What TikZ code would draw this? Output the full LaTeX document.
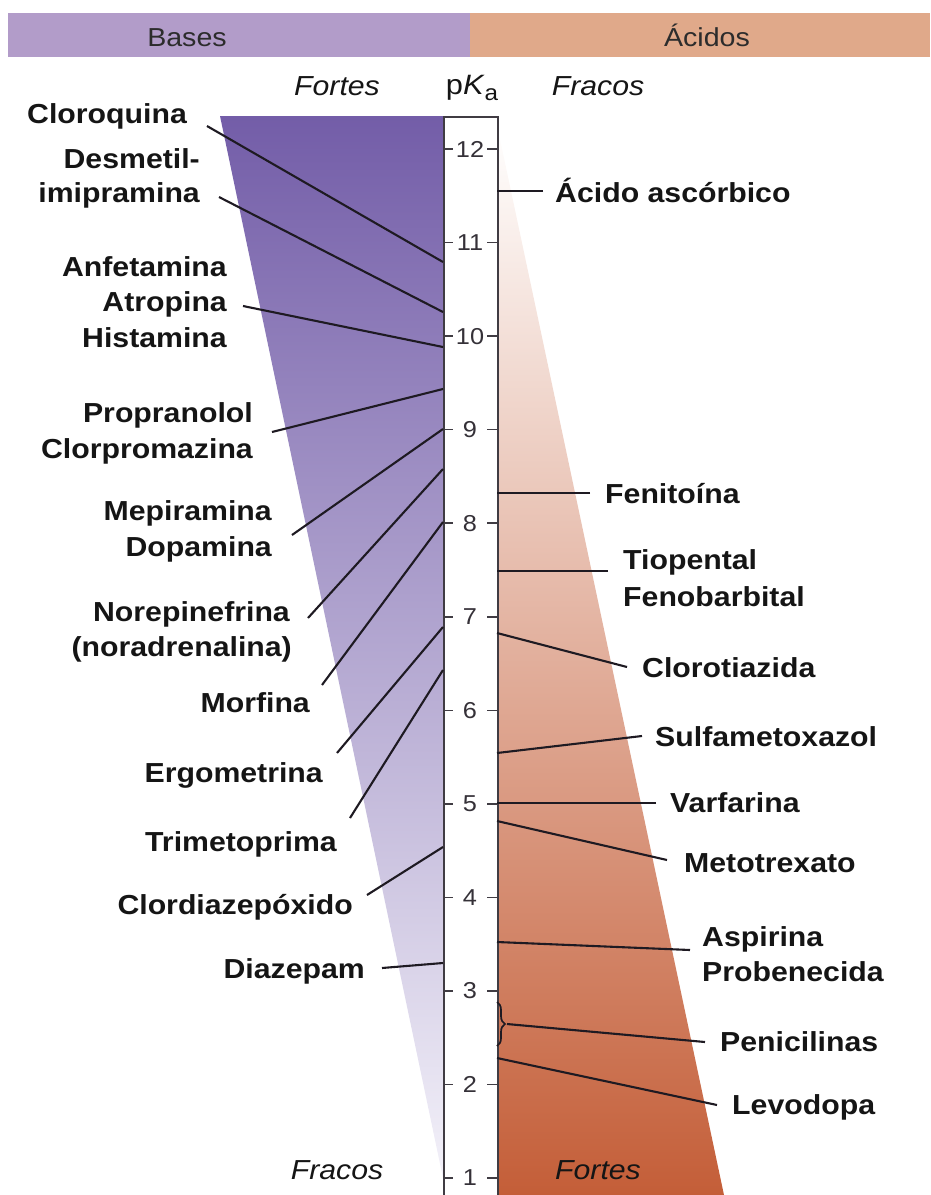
\documentclass[tikz,border=0pt]{standalone}
\usepackage{fontspec}
\setmainfont{Liberation Sans}[FakeStretch=1.1]
\usetikzlibrary{decorations.pathreplacing,calc}
\definecolor{hdrpurple}{HTML}{B29CC9}
\definecolor{hdrorange}{HTML}{E0A98A}
\definecolor{purtop}{HTML}{735DA8}
\definecolor{purbot}{HTML}{F3F1F9}
\definecolor{orbot}{HTML}{C45E38}
\definecolor{ink}{HTML}{1E1A22}
\definecolor{txt}{HTML}{151515}
\tikzset{
  lbl/.style={font=\bfseries\fontsize{27.5}{33}\selectfont, text=txt, inner sep=0pt, text height=19.7pt, text depth=0pt},
  lleft/.style={lbl, anchor=east},
  lright/.style={lbl, anchor=west},
  hdr/.style={font=\fontsize{26}{30}\selectfont, text=txt!90, inner sep=0pt, text height=18.6pt, text depth=0pt},
  itl/.style={font=\itshape\fontsize{27.5}{33}\selectfont, text=txt, inner sep=0pt},
  num/.style={font=\fontsize{23}{26}\selectfont, text=ink!90, inner sep=0pt},
  conn/.style={draw=ink, line width=2.1pt},
  tick/.style={draw=ink!85, line width=1.6pt}
}
\begin{document}
\begin{tikzpicture}[x=1pt,y=-1pt]
\useasboundingbox (0,0) rectangle (930,1195);
% header
\fill[hdrpurple] (8,13) rectangle (470,57);
\fill[hdrorange] (470,13) rectangle (930,57);
\node[hdr] (bases) at (187,37) {Bases};
\node[hdr] (acidos) at (707,37) {Ácidos};
\node[itl] (fortesT) at (337,86) {Fortes};
\node[itl] (fracosT) at (598,86) {Fracos};
\node[font=\fontsize{28}{30}\selectfont, text=txt, inner sep=0pt] (pka) at (472,88) {p\textit{K}\raisebox{-6pt}{\fontsize{22}{22}\selectfont a}};
% wedges
\shade[top color=purtop, bottom color=purbot] (220,116) -- (443,116) -- (443,1178) -- cycle;
\shade[top color=white, bottom color=orbot] (497,125) -- (724,1195) -- (497,1195) -- cycle;
% scale box
\fill[white] (443,116) rectangle (497,1200);
\node[draw=ink!85, line width=1.9pt, minimum width=54pt, minimum height=1100pt, anchor=north west, inner sep=0pt] (box) at (443,116) {};
\foreach \p in {1,...,12}{
  \pgfmathsetmacro{\yy}{149+(12-\p)*93.55}
  \draw[tick] (443,\yy) -- (453,\yy);
  \draw[tick] (487,\yy) -- (497,\yy);
  \node[num] at (470,\yy) {\p};
}
\node[itl] (fracosB) at (337,1170) {Fracos};
\node[itl] (fortesB) at (598,1170) {Fortes};
% left labels
\node[lleft] (cloro) at (187,114) {Cloroquina};
\node[lleft] (desm1) at (200,159) {Desmetil-};
\node[lleft] (desm2) at (200,193) {imipramina};
\node[lleft] (anfe) at (227,267) {Anfetamina};
\node[lleft] (atro) at (227,302) {Atropina};
\node[lleft] (hist) at (227,338) {Histamina};
\node[lleft] (prop) at (253,413) {Propranolol};
\node[lleft] (clorp) at (253,449) {Clorpromazina};
\node[lleft] (mepi) at (272,511) {Mepiramina};
\node[lleft] (dopa) at (272,547) {Dopamina};
\node[lleft] (nore) at (290,612) {Norepinefrina};
\node[lleft] (nora) at (292,647) {(noradrenalina)};
\node[lleft] (morf) at (310,703) {Morfina};
\node[lleft] (ergo) at (323,773) {Ergometrina};
\node[lleft] (trim) at (337,842) {Trimetoprima};
\node[lleft] (clord) at (353,905) {Clordiazepóxido};
\node[lleft] (diaz) at (365,969) {Diazepam};
% right labels
\node[lright] (asc) at (555,193) {Ácido ascórbico};
\node[lright] (feni) at (605,494) {Fenitoína};
\node[lright] (tiop) at (623,560) {Tiopental};
\node[lright] (feno) at (623,597) {Fenobarbital};
\node[lright] (clort) at (642,668) {Clorotiazida};
\node[lright] (sulf) at (655,737) {Sulfametoxazol};
\node[lright] (varf) at (670,803) {Varfarina};
\node[lright] (meto) at (684,863) {Metotrexato};
\node[lright] (aspi) at (702,937) {Aspirina};
\node[lright] (prob) at (702,972) {Probenecida};
\node[lright] (peni) at (720,1042) {Penicilinas};
\node[lright] (levo) at (732,1105) {Levodopa};
% connector end points
\coordinate (cloroA) at (207,126);  \coordinate (cloroB) at (443,262);
\coordinate (desmA) at (219,197);   \coordinate (desmB) at (443,312);
\coordinate (anfeA) at (243,306);   \coordinate (anfeB) at (443,347);
\coordinate (propA) at (272,432);   \coordinate (propB) at (443,389);
\coordinate (mepiA) at (292,535);   \coordinate (mepiB) at (443,429);
\coordinate (noreA) at (308,618);   \coordinate (noreB) at (443,469);
\coordinate (morfA) at (322,685);   \coordinate (morfB) at (443,522);
\coordinate (ergoA) at (337,753);   \coordinate (ergoB) at (443,627);
\coordinate (trimA) at (350,818);   \coordinate (trimB) at (443,670);
\coordinate (clordA) at (367,895);  \coordinate (clordB) at (443,847);
\coordinate (diazA) at (382,968);   \coordinate (diazB) at (443,963);
\coordinate (ascA) at (543,191);    \coordinate (ascB) at (497,191);
\coordinate (feniA) at (590,493);   \coordinate (feniB) at (497,493);
\coordinate (tiopA) at (608,571);   \coordinate (tiopB) at (497,571);
\coordinate (clortA) at (627,667);  \coordinate (clortB) at (497,633);
\coordinate (sulfA) at (642,736);   \coordinate (sulfB) at (497,753);
\coordinate (varfA) at (656,803);   \coordinate (varfB) at (497,803);
\coordinate (metoA) at (667,860);   \coordinate (metoB) at (497,821);
\coordinate (aspiA) at (690,950);   \coordinate (aspiB) at (497,942);
\coordinate (peniA) at (705,1042);  \coordinate (peniB) at (507,1024);
\coordinate (levoA) at (717,1105);  \coordinate (levoB) at (497,1058);
\coordinate (braceT) at (497,1002); \coordinate (braceBt) at (497,1046);
\foreach \n in {cloro,desm,anfe,prop,mepi,nore,morf,ergo,trim,clord,diaz,asc,feni,tiop,clort,sulf,varf,meto,aspi,peni,levo}{
  \draw[conn] (\n A) -- (\n B);
}
\draw[draw=ink, line width=1.7pt, decorate, decoration={brace, amplitude=8pt}] (braceT) -- (braceBt);
\end{tikzpicture}
\end{document}
